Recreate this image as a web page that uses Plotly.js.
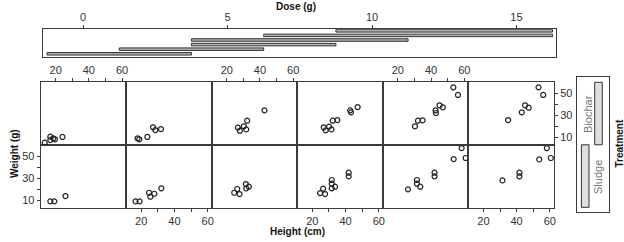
<!DOCTYPE html>
<html><head><meta charset="utf-8">
<script src="https://cdn.plot.ly/plotly-3.0.1.min.js"></script>
<style>body{margin:0;padding:0;background:#fff}#chart{width:624px;height:242px}</style>
</head><body><div id="chart"></div><script>
const W = 624, H = 242;

// Conditioning intervals for Dose (g), lowest first
const doseLow  = [-1.25, 1.25, 3.75, 3.75, 6.25, 8.75];
const doseHigh = [3.75, 6.25, 8.75, 11.25, 16.25, 16.25];
const doseTicks = [0, 5, 10, 15];

// Treatment levels (bottom row first)
const treatments = ['Sludge', 'Biochar'];
const treatLow  = [0.5, 1.5];
const treatHigh = [1.5, 2.5];

const heightTicks = [20, 30, 40, 50, 60];
const heightTickText = ['20', '', '40', '', '60'];
const weightTicks = [10, 20, 30, 40, 50];
const weightTickText = ['10', '', '30', '', '50'];

// Biochar (top row), one array per dose interval
const biocharHeight = [
  [13.4, 16.8, 16.8, 18.6, 19.6, 24.1],
  [17.8, 18.8, 23.7, 27.1, 28.5, 31.9],
  [26.7, 27.9, 30.3, 31.7, 32.3, 42.7],
  [26.9, 28.1, 30.1, 31.5, 32.3, 35.1, 42.8, 43.3, 47.3],
  [30.3, 32.1, 34.9, 42.7, 42.9, 45.1, 47.1, 53.4, 56.2],
  [34.9, 43.1, 45.1, 47.3, 53.2, 56.0]
];
const biocharWeight = [
  [5.1, 10.6, 7.5, 9.1, 8.2, 10.3],
  [9.1, 8.2, 10.3, 19.1, 16.6, 17.5],
  [18.8, 16.0, 20.0, 17.2, 25.1, 34.5],
  [19.1, 16.3, 19.7, 17.2, 25.1, 25.7, 34.5, 32.7, 37.5],
  [20.0, 25.1, 25.4, 34.5, 32.1, 39.1, 37.2, 55.4, 48.5],
  [25.7, 32.7, 39.1, 36.9, 55.4, 48.5]
];
// Sludge (bottom row)
const sludgeHeight = [
  [16.8, 19.2, 25.9],
  [16.6, 19.0, 24.7, 25.5, 27.9, 32.1],
  [24.5, 26.3, 27.7, 31.5, 31.7, 33.3],
  [24.7, 26.5, 27.7, 31.7, 31.7, 31.7, 33.7, 41.9, 41.9],
  [26.1, 31.5, 31.5, 33.5, 42.1, 42.1, 53.6, 58.4, 60.8],
  [31.5, 41.7, 41.7, 53.6, 58.2, 60.6]
];
const sludgeWeight = [
  [8.8, 8.8, 13.6],
  [8.8, 8.8, 16.6, 13.0, 15.7, 20.6],
  [16.6, 20.0, 15.4, 24.5, 20.6, 22.1],
  [16.3, 20.3, 15.4, 28.2, 24.8, 20.6, 22.1, 34.8, 31.5],
  [19.7, 28.2, 24.8, 22.1, 34.8, 31.5, 47.2, 57.2, 48.2],
  [27.8, 34.8, 31.5, 46.9, 57.2, 48.2]
];

const FONT = '"Liberation Sans Narrow", "Arial Narrow", "Liberation Sans", Arial, sans-serif';
const fx = px => px / W, fy = py => 1 - py / H;
const colL = 40.7, colR = 554, colW = (colR - colL) / 6;
const rowTop = [82.3, 145], rowBot = [145, 207.7];
const LINE = '#3a3a3a';

const traces = [];
const layout = {
  width: W, height: H, margin: {l: 0, r: 0, t: 0, b: 0},
  paper_bgcolor: '#fff', plot_bgcolor: '#fff', showlegend: false,
  font: {family: FONT, size: 10, color: '#333'},
  annotations: []
};

function baseAxis() {
  return {showline: true, mirror: true, linecolor: LINE, linewidth: 1, zeroline: false,
    showgrid: false, ticks: '', showticklabels: false, fixedrange: true,
    tickcolor: LINE, ticklen: 3, tickwidth: 1, tickfont: {family: FONT, size: 11, color: '#333'}};
}

const rowsData = [
  {H: sludgeHeight, Wt: sludgeWeight, pos: rowBot, off: 1},
  {H: biocharHeight, Wt: biocharWeight, pos: rowTop, off: 7}
];
rowsData.forEach((r, ri) => {
  for (let i = 0; i < 6; i++) {
    const n = r.off + i;
    traces.push({type: 'scatter', mode: 'markers', x: r.H[i], y: r.Wt[i],
      xaxis: 'x' + n, yaxis: 'y' + n, cliponaxis: false, hoverinfo: 'skip',
      marker: {symbol: 'circle-open', size: 5, color: '#222', line: {width: 1.2, color: '#222'}}});
    const xa = baseAxis();
    xa.domain = [fx(colL + i * colW), fx(colL + (i + 1) * colW)];
    xa.range = [11, 62.5];
    xa.anchor = 'y' + n;
    const ya = baseAxis();
    ya.domain = [fy(r.pos[1]), fy(r.pos[0])];
    ya.range = [3, 60];
    ya.anchor = 'x' + n;
    if (ri === 1 && i % 2 === 0) {
      Object.assign(xa, {side: 'top', ticks: 'outside', showticklabels: true,
        tickvals: heightTicks, ticktext: heightTickText});
    }
    if (ri === 0 && i % 2 === 1) {
      Object.assign(xa, {side: 'bottom', ticks: 'outside', showticklabels: true,
        tickvals: heightTicks, ticktext: heightTickText});
    }
    if (ri === 0 && i === 0) {
      Object.assign(ya, {side: 'left', ticks: 'outside', showticklabels: true,
        tickvals: weightTicks, ticktext: weightTickText});
    }
    if (ri === 1 && i === 5) {
      Object.assign(ya, {side: 'right', ticks: 'outside', showticklabels: true,
        tickvals: weightTicks, ticktext: weightTickText});
    }
    layout['xaxis' + n] = xa;
    layout['yaxis' + n] = ya;
  }
});

// Dose given-panel
traces.push({type: 'bar', orientation: 'h', xaxis: 'x13', yaxis: 'y13',
  y: doseLow.map((d, i) => i + 1), x: doseHigh.map((h, i) => h - doseLow[i]), base: doseLow,
  width: 0.55, hoverinfo: 'skip',
  marker: {color: '#b0b0b0', line: {color: '#333', width: 1}}});
layout.xaxis13 = Object.assign(baseAxis(), {domain: [fx(43.3), fx(556)], range: [-1.38, 16.37],
  anchor: 'y13', side: 'top', ticks: 'outside', ticklen: 3, showticklabels: true, tickvals: doseTicks});
layout.yaxis13 = Object.assign(baseAxis(), {domain: [fy(57), fy(29.3)], range: [0.3, 6.33], anchor: 'x13'});

// Treatment given-panel
traces.push({type: 'bar', xaxis: 'x14', yaxis: 'y14',
  x: treatments.map((t, i) => i + 1), y: treatHigh.map((h, i) => h - treatLow[i]), base: treatLow,
  width: 0.57, hoverinfo: 'skip',
  marker: {color: '#dedede', line: {color: '#333', width: 1}}});
layout.xaxis14 = Object.assign(baseAxis(), {domain: [fx(576.7), fx(609)], range: [0.36, 2.79], anchor: 'y14'});
layout.yaxis14 = Object.assign(baseAxis(), {domain: [fy(212.3), fy(77.3)], range: [0.42, 2.58], anchor: 'x14'});

const ann = (text, x, y, opts) => layout.annotations.push(Object.assign({
  text, x: fx(x), y: fy(y), xref: 'paper', yref: 'paper', showarrow: false,
  xanchor: 'center', yanchor: 'middle', font: {family: FONT, size: 10, color: '#111'}}, opts || {}));

ann('<b>Dose (g)</b>', 296, 6);
ann('<b>Height (cm)</b>', 297, 231);
ann('<b>Weight (g)</b>', 14, 154, {textangle: -90});
ann('<b>Treatment</b>', 618.5, 144, {textangle: -90});
ann(treatments[1], 588, 114, {textangle: -90, font: {family: FONT, size: 11, color: '#777'}});
ann(treatments[0], 598, 177, {textangle: -90, font: {family: FONT, size: 11, color: '#777'}});

Plotly.newPlot('chart', traces, layout, {staticPlot: true, displayModeBar: false});
</script></body></html>
